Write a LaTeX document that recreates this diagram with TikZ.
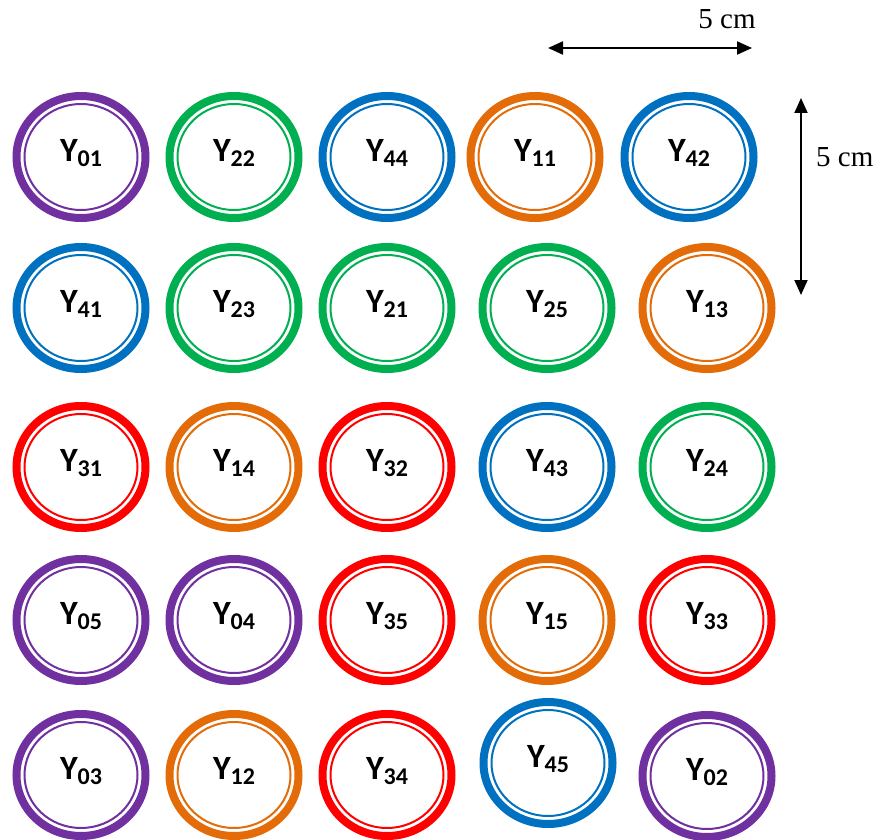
\documentclass[tikz,border=0pt]{standalone}
\usepackage{fontspec}
\setmainfont{Carlito}
\newfontfamily\dimfont{Liberation Serif}
\usetikzlibrary{shapes.geometric,arrows.meta}

\definecolor{cpurple}{HTML}{7030A0}
\definecolor{cgreen}{HTML}{00B050}
\definecolor{cblue}{HTML}{0070C0}
\definecolor{corange}{HTML}{E36C09}
\definecolor{cred}{HTML}{FF0000}

% label Y with a lowered index, set in a zero-size box so it sits a little above the centre
\newcommand{\ylab}[1]{\raisebox{-4.5pt}[0pt][0pt]{\fontsize{34}{34}\selectfont\bfseries Y\raisebox{-5pt}{\fontsize{24}{24}\selectfont\bfseries #1}}}

\begin{document}
\begin{tikzpicture}[x=1pt,y=-1pt,
  ring/.style={ellipse, draw=#1, line width=8pt, minimum width=129pt,
    minimum height=122pt, inner sep=0pt,
    path picture={\draw[#1, line width=2pt]
      (path picture bounding box.center) ellipse (56.5pt and 53pt);}},
  dimarrow/.style={line width=2pt, {Triangle[length=15pt,width=13pt]}-{Triangle[length=15pt,width=13pt]}},
  dimlabel/.style={font=\fontsize{29}{29}\selectfont\dimfont, inner sep=0pt}]
\useasboundingbox (0,0) rectangle (884,840);

% row 1
\node[ring=cpurple] (y01) at (81,157) {\ylab{01}};
\node[ring=cgreen]  (y22) at (234,157) {\ylab{22}};
\node[ring=cblue]   (y44) at (387,157) {\ylab{44}};
\node[ring=corange] (y11) at (535,157) {\ylab{11}};
\node[ring=cblue]   (y42) at (689,157) {\ylab{42}};
% row 2
\node[ring=cblue]   (y41) at (81,308) {\ylab{41}};
\node[ring=cgreen]  (y23) at (234,308) {\ylab{23}};
\node[ring=cgreen]  (y21) at (387,308) {\ylab{21}};
\node[ring=cgreen]  (y25) at (547,308) {\ylab{25}};
\node[ring=corange] (y13) at (707,308) {\ylab{13}};
% row 3
\node[ring=cred]    (y31) at (81,467) {\ylab{31}};
\node[ring=corange] (y14) at (234,467) {\ylab{14}};
\node[ring=cred]    (y32) at (387,467) {\ylab{32}};
\node[ring=cblue]   (y43) at (547,467) {\ylab{43}};
\node[ring=cgreen]  (y24) at (707,467) {\ylab{24}};
% row 4
\node[ring=cpurple] (y05) at (81,620) {\ylab{05}};
\node[ring=cpurple] (y04) at (234,620) {\ylab{04}};
\node[ring=cred]    (y35) at (387,620) {\ylab{35}};
\node[ring=corange] (y15) at (547,620) {\ylab{15}};
\node[ring=cred]    (y33) at (707,620) {\ylab{33}};
% row 5
\node[ring=cpurple] (y03) at (81,775) {\ylab{03}};
\node[ring=corange] (y12) at (234,775) {\ylab{12}};
\node[ring=cred]    (y34) at (387,775) {\ylab{34}};
\node[ring=cblue]   (y45) at (548,763) {\ylab{45}};
\node[ring=cpurple] (y02) at (707,776) {\ylab{02}};

% scale bars
\coordinate (hl) at (548,48);
\coordinate (hr) at (752,48);
\coordinate (vt) at (801,98);
\coordinate (vb) at (801,295);
\draw[dimarrow] (hl) -- (hr);
\draw[dimarrow] (vt) -- (vb);
\node[dimlabel, anchor=base] (hlab) at (727,29) {5 cm};
\node[dimlabel, anchor=base west] (vlab) at (816,167) {5 cm};
\end{tikzpicture}
\end{document}
